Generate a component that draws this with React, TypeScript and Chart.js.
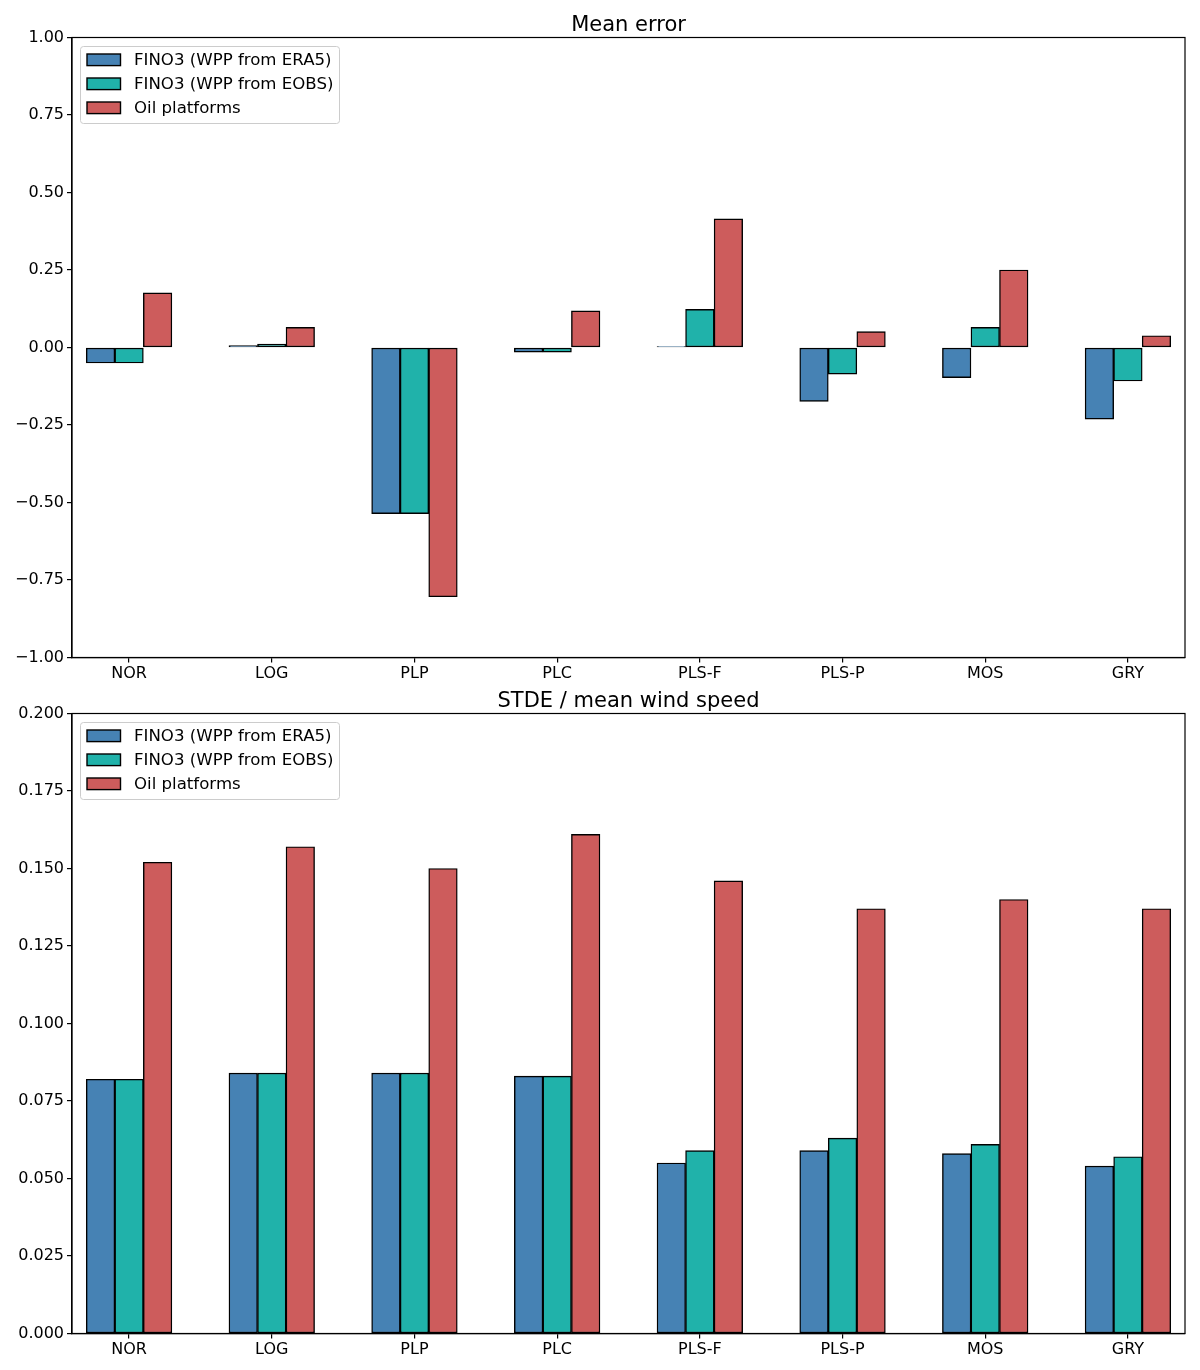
import React, { useEffect, useRef } from "react";
import { Chart, registerables } from "chart.js";

Chart.register(...registerables);

// ---------- data ----------
const categories = ["NOR", "LOG", "PLP", "PLC", "PLS-F", "PLS-P", "MOS", "GRY"];
const seriesLabels = ["FINO3 (WPP from ERA5)", "FINO3 (WPP from EOBS)", "Oil platforms"];
const seriesColors = ["#4682B4", "#20B2AA", "#CD5C5C"];
const barOffsets = [-0.2, 0, 0.2];

const meanErrorERA5 = [-0.05, 0.006, -0.536, -0.015, 0.003, -0.174, -0.097, -0.231];
const meanErrorEOBS = [-0.05, 0.011, -0.536, -0.015, 0.123, -0.086, 0.065, -0.108];
const meanErrorOil = [0.176, 0.065, -0.804, 0.118, 0.415, 0.051, 0.25, 0.038];

const stdeERA5 = [0.082, 0.084, 0.084, 0.083, 0.055, 0.059, 0.058, 0.054];
const stdeEOBS = [0.082, 0.084, 0.084, 0.083, 0.059, 0.063, 0.061, 0.057];
const stdeOil = [0.152, 0.157, 0.15, 0.161, 0.146, 0.137, 0.14, 0.137];

const meanErrorTicks = [-1, -0.75, -0.5, -0.25, 0, 0.25, 0.5, 0.75, 1];
const stdeTicks = [0, 0.025, 0.05, 0.075, 0.1, 0.125, 0.15, 0.175, 0.2];

const FONT = "DejaVu Sans";

type PanelSpec = {
  title: string;
  series: number[][];
  ticks: number[];
  decimals: number;
  height: number;
  topSpace: number;
  bottomSpace: number;
};

const panels: PanelSpec[] = [
  {
    title: "Mean error",
    series: [meanErrorERA5, meanErrorEOBS, meanErrorOil],
    ticks: meanErrorTicks,
    decimals: 2,
    height: 685,
    topSpace: 37.5,
    bottomSpace: 27.5,
  },
  {
    title: "STDE / mean wind speed",
    series: [stdeERA5, stdeEOBS, stdeOil],
    ticks: stdeTicks,
    decimals: 3,
    height: 685,
    topSpace: 28.5,
    bottomSpace: 36.5,
  },
];

function fmt(v: number, d: number) {
  return v.toFixed(d).replace("-", "\u2212");
}

const framePlugin = {
  id: "mplFrame",
  afterDraw(chart: any, _args: any, opts: any) {
    const { ctx, chartArea: a } = chart;
    ctx.save();
    // full axes box
    ctx.strokeStyle = "#000";
    ctx.lineWidth = 1.2;
    ctx.strokeRect(a.left, a.top, a.right - a.left, a.bottom - a.top);

    // title
    ctx.fillStyle = "#000";
    ctx.font = `21px "${FONT}"`;
    ctx.textAlign = "center";
    ctx.textBaseline = "alphabetic";
    ctx.fillText(opts.title, (a.left + a.right) / 2, a.top - 6.5);

    // legend
    const fx = a.left + 8.5;
    const fy = a.top + 9;
    const fw = 259;
    const fh = 77;
    const r = 3;
    ctx.beginPath();
    ctx.moveTo(fx + r, fy);
    ctx.lineTo(fx + fw - r, fy);
    ctx.quadraticCurveTo(fx + fw, fy, fx + fw, fy + r);
    ctx.lineTo(fx + fw, fy + fh - r);
    ctx.quadraticCurveTo(fx + fw, fy + fh, fx + fw - r, fy + fh);
    ctx.lineTo(fx + r, fy + fh);
    ctx.quadraticCurveTo(fx, fy + fh, fx, fy + fh - r);
    ctx.lineTo(fx, fy + r);
    ctx.quadraticCurveTo(fx, fy, fx + r, fy);
    ctx.closePath();
    ctx.fillStyle = "rgba(255,255,255,0.8)";
    ctx.fill();
    ctx.strokeStyle = "#cccccc";
    ctx.lineWidth = 1;
    ctx.stroke();

    chart.data.datasets.forEach((ds: any, i: number) => {
      const cy = a.top + 22.3 + 24 * i;
      ctx.fillStyle = ds.backgroundColor;
      ctx.fillRect(a.left + 15, cy - 5.8, 33.5, 11.6);
      ctx.strokeStyle = "#000";
      ctx.lineWidth = 1.4;
      ctx.strokeRect(a.left + 15, cy - 5.8, 33.5, 11.6);
      ctx.fillStyle = "#000";
      ctx.font = `16.6px "${FONT}"`;
      ctx.textAlign = "left";
      ctx.textBaseline = "middle";
      ctx.fillText(ds.label, a.left + 62, cy + 1);
    });
    ctx.restore();
  },
};

function Panel({ spec }: { spec: PanelSpec }) {
  const ref = useRef<HTMLCanvasElement | null>(null);
  useEffect(() => {
    if (!ref.current) return;
    const datasets = spec.series.map((vals, s) => ({
      label: seriesLabels[s],
      data: vals.map((v, i) => ({ x: i + barOffsets[s], y: v })),
      backgroundColor: seriesColors[s],
      borderColor: "#000",
      borderWidth: 1.4,
      borderSkipped: false as const,
      grouped: false,
      barPercentage: 1,
      categoryPercentage: 1,
    }));
    const chart = new Chart(ref.current, {
      type: "bar",
      data: { datasets },
      plugins: [framePlugin as any],
      options: {
        animation: false,
        responsive: false,
        events: [],
        layout: { padding: { top: spec.topSpace, right: 15, left: 0, bottom: 0 } },
        plugins: {
          legend: { display: false },
          title: { display: false },
          tooltip: { enabled: false },
          mplFrame: { title: spec.title },
        } as any,
        scales: {
          x: {
            type: "linear",
            offset: false,
            min: -0.4,
            max: categories.length - 0.6,
            afterBuildTicks: (scale: any) => {
              scale.ticks = categories.map((_, i) => ({ value: i }));
            },
            afterFit: (scale: any) => {
              scale.height = spec.bottomSpace;
            },
            grid: {
              display: true,
              offset: false,
              drawOnChartArea: false,
              drawTicks: true,
              tickLength: 5,
              color: "#000",
              lineWidth: 1.2,
            },
            border: { display: true, color: "#000", width: 1.2 },
            ticks: {
              color: "#000",
              padding: 2,
              maxRotation: 0,
              autoSkip: false,
              font: { family: FONT, size: 16 },
              callback: (value: any) => categories[Math.round(Number(value))] ?? "",
            },
          },
          y: {
            type: "linear",
            min: spec.ticks[0],
            max: spec.ticks[spec.ticks.length - 1],
            afterBuildTicks: (scale: any) => {
              scale.ticks = spec.ticks.map((v) => ({ value: v }));
            },
            afterFit: (scale: any) => {
              scale.width = 72;
            },
            grid: {
              display: true,
              drawOnChartArea: false,
              drawTicks: true,
              tickLength: 5,
              color: "#000",
              lineWidth: 1.2,
            },
            border: { display: true, color: "#000", width: 1.2 },
            ticks: {
              color: "#000",
              padding: 3,
              font: { family: FONT, size: 16 },
              callback: (value: any) => fmt(Number(value), spec.decimals),
            },
          },
        },
      } as any,
    });
    return () => chart.destroy();
  }, [spec]);
  return (
    <canvas
      ref={ref}
      width={1200}
      height={spec.height}
      style={{ display: "block", width: 1200, height: spec.height }}
    />
  );
}

export default function App() {
  useEffect(() => {
    document.body.style.margin = "0";
  }, []);
  return (
    <div style={{ width: 1200, background: "#fff" }}>
      {panels.map((p, i) => (
        <Panel key={i} spec={p} />
      ))}
    </div>
  );
}
